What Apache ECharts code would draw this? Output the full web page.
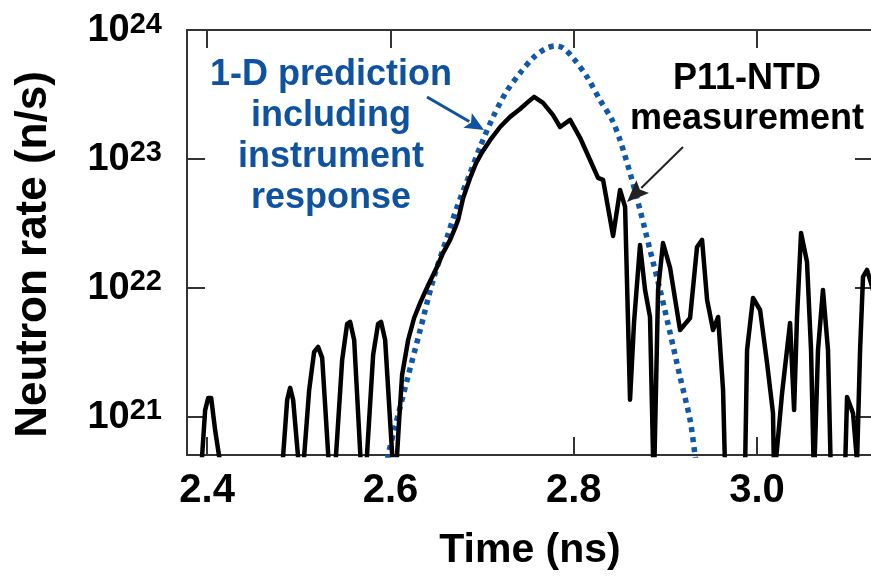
<!DOCTYPE html>
<html>
<head>
<meta charset="utf-8">
<script src="https://cdn.jsdelivr.net/npm/echarts@6/dist/echarts.min.js"></script>
<style>
  html, body { margin: 0; padding: 0; background: #fff; }
  #chart { width: 871px; height: 577px; }
</style>
</head>
<body>
<div id="chart"></div>
<script>
// P11-NTD measured neutron rate (time in ns, rate in n/s)
const measTime = [
  2.3782, 2.3935, 2.3978, 2.4011, 2.4044, 2.4087, 2.4153, 2.4450,
  2.4818, 2.4873, 2.4905, 2.4938, 2.5004, 2.5025,
  2.5047, 2.5113, 2.5167, 2.5211, 2.5255, 2.5331, 2.5364,
  2.5396, 2.5473, 2.5527, 2.5560, 2.5604, 2.5680, 2.5707,
  2.5734, 2.5811, 2.5865, 2.5898, 2.5942, 2.6029, 2.6045,
  2.6062, 2.6095, 2.6127, 2.6193, 2.6258, 2.6324, 2.6411, 2.6509, 2.6574,
  2.6651, 2.6705, 2.6738, 2.6793, 2.6869, 2.6934, 2.7000, 2.7087, 2.7196,
  2.7305, 2.7414, 2.7502, 2.7567, 2.7665, 2.7774, 2.7851, 2.7960, 2.8069,
  2.8178, 2.8265, 2.8320, 2.8429, 2.8505, 2.8560, 2.8614, 2.8658, 2.8723,
  2.8778, 2.8832, 2.8865, 2.8876, 2.8920, 2.8974, 2.9051, 2.9160, 2.9269,
  2.9345, 2.9400, 2.9455, 2.9520, 2.9575, 2.9629, 2.9651, 2.9760,
  2.9869, 2.9891, 2.9956, 3.0033, 3.0109, 3.0174, 3.0186,
  3.0273, 3.0360, 3.0404, 3.0436, 3.0480, 3.0545, 3.0589, 3.0621,
  3.0665, 3.0719, 3.0774, 3.0807, 3.0900,
  3.0960, 3.0982, 3.1047, 3.1091, 3.1124, 3.1156, 3.1200, 3.1243, 3.1300
];
const measRate = [
  1.6e20, 3.9e20, 1.13e21, 1.40e21, 1.40e21, 7.9e20, 3.9e20, 1.0e20,
  3.9e20, 1.36e21, 1.68e21, 1.36e21, 3.9e20, 2.5e20,
  3.9e20, 1.62e21, 3.19e21, 3.49e21, 2.87e21, 3.9e20, 2.5e20,
  3.9e20, 2.77e21, 5.26e21, 5.45e21, 3.95e21, 3.9e20, 2.5e20,
  3.9e20, 3.03e21, 5.26e21, 5.45e21, 3.95e21, 3.9e20, 2.5e20,
  3.9e20, 9.5e20, 2.12e21, 3.95e21, 5.85e21, 7.66e21, 1.05e22, 1.46e22, 1.87e22,
  2.36e22, 2.92e22, 3.37e22, 4.99e22, 7.13e22, 9.3e22, 1.13e23, 1.40e23, 1.77e23,
  2.12e23, 2.44e23, 2.77e23, 3.03e23, 2.72e23, 2.19e23, 1.77e23, 2.01e23, 1.46e23,
  9.82e22, 7.13e22, 6.88e22, 2.53e22, 5.75e22, 4.25e22, 1.36e21, 5.45e21, 2.15e22,
  9.64e21, 5.96e21, 5.0e20, 3.2e20, 9.64e21, 2.23e22, 1.43e22, 4.72e21, 5.85e21,
  2.08e22, 2.36e22, 8.07e21, 4.72e21, 5.96e21, 1.62e21, 3.9e20, 1.0e20,
  3.9e20, 3.30e21, 8.36e21, 6.75e21, 2.62e21, 1.07e21, 3.2e20,
  1.53e21, 5.36e21, 1.13e21, 5.96e21, 2.67e22, 1.59e22, 3.30e21, 3.2e20,
  3.30e21, 9.64e21, 3.30e21, 3.2e20, 1.0e20,
  3.9e20, 1.43e21, 1.07e21, 4.5e20, 3.30e21, 1.22e22, 1.38e22, 1.09e22, 8.0e21
];

// 1-D prediction including instrument response
const predTime = [
  2.5953, 2.5975, 2.6051, 2.6182, 2.6324, 2.6465, 2.6618, 2.6727, 2.6869,
  2.6978, 2.7120, 2.7262, 2.7414, 2.7556, 2.7687, 2.7796, 2.7884, 2.7993,
  2.8145, 2.8287, 2.8418, 2.8505, 2.8614, 2.8723, 2.8832, 2.8942, 2.9051,
  2.9160, 2.9269, 2.9323, 2.9345
];
const predRate = [
  3.9e20, 5.07e20, 8.4e20, 1.94e21, 4.72e21, 1.15e22, 2.48e22, 4.25e22, 7.79e22,
  1.24e23, 2.12e23, 3.30e23, 4.64e23, 6.07e23, 7.13e23, 7.52e23, 7.25e23, 6.07e23,
  4.33e23, 2.86e23, 2.01e23, 1.40e23, 7.79e22, 4.03e22, 1.97e22, 9.64e21, 4.48e21,
  2.04e21, 9.5e20, 5.07e20, 3.9e20
];

const timeTicks = [2.4, 2.6, 2.8, 3.0];
const rateExponents = [21, 22, 23, 24];

const FONT = '"Liberation Sans", Arial, Helvetica, sans-serif';
const FRAME = '#333';
const BLUE = '#1158a8';
const TEXT_BLUE = '#0f52a0';

const chart = echarts.init(document.getElementById('chart'), null, { renderer: 'canvas' });

const frameLine = { show: true, onZero: false, lineStyle: { color: FRAME, width: 2 } };
const innerTick = (vals) => ({
  show: true, inside: true, length: 18,
  customValues: vals,
  lineStyle: { color: FRAME, width: 2 }
});

function powerLabel(v) {
  const e = Math.log10(v);
  const n = Math.round(e);
  if (Math.abs(e - n) > 0.01 || rateExponents.indexOf(n) < 0) return '';
  return '{b|10}{s|' + n + '}';
}

// arrow: shaft plus filled head, tip at the end point
function arrow(tail, tip, color, width, headLen, headHalf) {
  const dx = tip[0] - tail[0], dy = tip[1] - tail[1];
  const L = Math.hypot(dx, dy), ux = dx / L, uy = dy / L;
  const bx = tip[0] - ux * headLen, by = tip[1] - uy * headLen;
  return [
    { type: 'line', shape: { x1: tail[0], y1: tail[1], x2: bx + ux * 2, y2: by + uy * 2 },
      style: { stroke: color, lineWidth: width }, z: 10 },
    { type: 'polygon',
      shape: { points: [tip, [bx - uy * headHalf, by + ux * headHalf], [bx + ux * 4, by + uy * 4], [bx + uy * headHalf, by - ux * headHalf]] },
      style: { fill: color }, z: 10 }
  ];
}

const option = {
  animation: false,
  backgroundColor: '#fff',
  grid: { left: 187, top: 30, width: 686, height: 425, outerBoundsMode: 'none', containLabel: false },
  xAxis: [
    {
      type: 'value', position: 'bottom', min: 2.378, max: 3.1265,
      axisLine: frameLine,
      axisTick: innerTick(timeTicks),
      axisLabel: {
        customValues: timeTicks,
        formatter: (v) => v.toFixed(1),
        color: '#000', fontFamily: FONT, fontWeight: 'bold', fontSize: 40, lineHeight: 40, margin: 16
      },
      splitLine: { show: false },
      name: 'Time (ns)', nameLocation: 'middle', nameGap: 76,
      nameTextStyle: { color: '#000', fontFamily: FONT, fontWeight: 'bold', fontSize: 41, lineHeight: 40 }
    },
    {
      type: 'value', position: 'top', min: 2.378, max: 3.1265,
      axisLine: frameLine,
      axisTick: innerTick(timeTicks),
      axisLabel: { show: false },
      splitLine: { show: false }
    }
  ],
  yAxis: [
    {
      type: 'log', logBase: 10, position: 'left', min: 5.07e20, max: 1e24,
      axisLine: frameLine,
      axisTick: { show: true, inside: true, length: 18, lineStyle: { color: FRAME, width: 2 } },
      minorTick: { show: false },
      axisLabel: {
        formatter: powerLabel, margin: 25, color: '#000',
        rich: {
          b: { fontFamily: FONT, fontWeight: 'bold', fontSize: 38, lineHeight: 40, verticalAlign: 'bottom', color: '#000' },
          s: { fontFamily: FONT, fontWeight: 'bold', fontSize: 29, lineHeight: 24, verticalAlign: 'top', color: '#000' }
        }
      },
      splitLine: { show: false },
      name: 'Neutron rate (n/s)', nameLocation: 'middle', nameGap: 131,
      nameTextStyle: { color: '#000', fontFamily: FONT, fontWeight: 'bold', fontSize: 44, lineHeight: 44, padding: [0, 24, 0, 0] }
    },
    {
      type: 'log', logBase: 10, position: 'right', min: 5.07e20, max: 1e24,
      axisLine: frameLine,
      axisTick: { show: true, inside: true, length: 18, lineStyle: { color: FRAME, width: 2 } },
      minorTick: { show: false },
      axisLabel: { show: false },
      splitLine: { show: false }
    }
  ],
  series: [
    {
      name: '1-D prediction', type: 'line', xAxisIndex: 0, yAxisIndex: 0,
      data: predTime.map((t, i) => [t, predRate[i]]),
      smooth: 0.3, symbol: 'none', clip: true, z: 2,
      lineStyle: { color: BLUE, width: 5.5, type: [5, 5], cap: 'butt' }
    },
    {
      name: 'P11-NTD measurement', type: 'line', xAxisIndex: 0, yAxisIndex: 0,
      data: measTime.map((t, i) => [t, measRate[i]]),
      symbol: 'none', clip: true, z: 3,
      lineStyle: { color: '#000', width: 4.5, join: 'round' }
    }
  ],
  graphic: [
    {
      type: 'text', x: 331, y: 137, z: 10,
      style: {
        text: '1-D prediction\nincluding\ninstrument\nresponse',
        align: 'center', verticalAlign: 'middle',
        fontFamily: FONT, fontWeight: 'bold', fontSize: 36, lineHeight: 41, fill: TEXT_BLUE
      }
    },
    {
      type: 'text', x: 747, y: 99, z: 10,
      style: {
        text: 'P11-NTD\nmeasurement',
        align: 'center', verticalAlign: 'middle',
        fontFamily: FONT, fontWeight: 'bold', fontSize: 36, lineHeight: 40, fill: '#000'
      }
    },
    ...arrow([427, 97], [484, 130], TEXT_BLUE, 3, 19, 8.5),
    ...arrow([683, 147], [627, 202], '#222', 2, 22, 9)
  ]
};

chart.setOption(option);
</script>
</body>
</html>
